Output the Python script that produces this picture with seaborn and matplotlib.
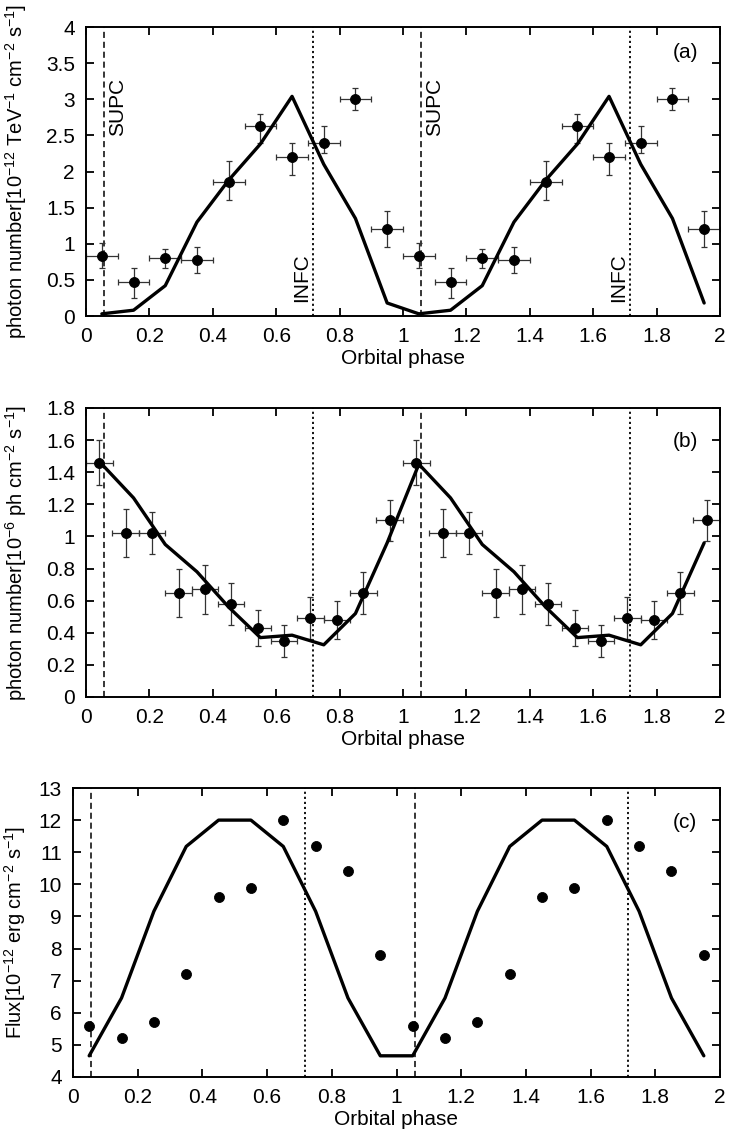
import numpy as np
import pandas as pd
import matplotlib
matplotlib.use("Agg")
import matplotlib.pyplot as plt
import seaborn as sns

# ---------------- data ----------------
# Panel (a): TeV photon number
a_phase = [0.05, 0.15, 0.25, 0.35, 0.45, 0.55, 0.65, 0.75, 0.85, 0.95,
           1.05, 1.15, 1.25, 1.35, 1.45, 1.55, 1.65, 1.75, 1.85, 1.95]
a_value = [0.83, 0.47, 0.80, 0.77, 1.85, 2.63, 2.20, 2.40, 3.00, 1.20,
           0.83, 0.47, 0.80, 0.77, 1.85, 2.63, 2.20, 2.40, 3.00, 1.20]
a_err_lo = [0.17, 0.22, 0.14, 0.17, 0.25, 0.24, 0.25, 0.15, 0.15, 0.25,
            0.17, 0.22, 0.14, 0.17, 0.25, 0.24, 0.25, 0.15, 0.15, 0.25]
a_err_hi = [0.18, 0.20, 0.13, 0.18, 0.30, 0.17, 0.20, 0.23, 0.15, 0.25,
            0.18, 0.20, 0.13, 0.18, 0.30, 0.17, 0.20, 0.23, 0.15, 0.25]
a_xerr = 0.05
a_model_phase = a_phase
a_model = [0.03, 0.08, 0.42, 1.30, 1.88, 2.38, 3.04, 2.10, 1.35, 0.18,
           0.03, 0.08, 0.42, 1.30, 1.88, 2.38, 3.04, 2.10, 1.35, 0.18]

# Panel (b): GeV photon number
b_phase = [0.042, 0.125, 0.208, 0.292, 0.375, 0.458, 0.542, 0.625, 0.708, 0.792, 0.875, 0.958,
           1.042, 1.125, 1.208, 1.292, 1.375, 1.458, 1.542, 1.625, 1.708, 1.792, 1.875, 1.958]
b_value = [1.46, 1.02, 1.02, 0.65, 0.67, 0.58, 0.43, 0.35, 0.49, 0.48, 0.65, 1.10,
           1.46, 1.02, 1.02, 0.65, 0.67, 0.58, 0.43, 0.35, 0.49, 0.48, 0.65, 1.10]
b_err = [0.14, 0.15, 0.13, 0.15, 0.15, 0.13, 0.11, 0.10, 0.13, 0.12, 0.13, 0.13,
         0.14, 0.15, 0.13, 0.15, 0.15, 0.13, 0.11, 0.10, 0.13, 0.12, 0.13, 0.13]
b_xerr = 0.0417
b_model_phase = a_phase
b_model = [1.45, 1.24, 0.95, 0.78, 0.56, 0.37, 0.385, 0.325, 0.52, 0.96,
           1.45, 1.24, 0.95, 0.78, 0.56, 0.37, 0.385, 0.325, 0.52, 0.96]

# Panel (c): X-ray flux
c_phase = a_phase
c_value = [5.6, 5.2, 5.7, 7.2, 9.6, 9.9, 12.0, 11.2, 10.4, 7.8,
           5.6, 5.2, 5.7, 7.2, 9.6, 9.9, 12.0, 11.2, 10.4, 7.8]
c_model_phase = a_phase
c_model = [4.66, 6.46, 9.16, 11.18, 12.0, 12.0, 11.18, 9.16, 6.46, 4.66,
           4.66, 6.46, 9.16, 11.18, 12.0, 12.0, 11.18, 9.16, 6.46, 4.66]

supc_phase = [0.056, 1.056]
infc_phase = [0.716, 1.716]
x_tick_labels = ["0", "0.2", "0.4", "0.6", "0.8", "1", "1.2", "1.4", "1.6", "1.8", "2"]

# ---------------- style ----------------
sns.set_theme(style="ticks")
FS = 15
plt.rcParams.update({
    "font.family": ["Liberation Sans", "DejaVu Sans"],
    "font.size": FS,
    "text.color": "black",
    "axes.labelcolor": "black",
    "xtick.color": "black",
    "ytick.color": "black",
    "xtick.direction": "in",
    "ytick.direction": "in",
    "xtick.major.size": 6,
    "ytick.major.size": 6,
    "xtick.major.width": 1.2,
    "ytick.major.width": 1.2,
    "xtick.top": True,
    "ytick.right": True,
    "axes.linewidth": 1.4,
    "axes.edgecolor": "black",
    "xtick.labelsize": FS,
    "ytick.labelsize": FS,
    "axes.labelsize": FS,
    "mathtext.default": "regular",
})

fig, axs = plt.subplots(3, 1, figsize=(7.3, 11.46), dpi=100)
ax_a, ax_b, ax_c = axs
W, H = 730, 1146


def place(ax, left, right, top, bottom):
    ax.set_position([left / W, 1 - bottom / H, (right - left) / W, (bottom - top) / H])


place(ax_a, 86, 720, 27, 316)
place(ax_b, 86, 720, 408, 697)
place(ax_c, 73, 720, 788, 1077)


def draw_vlines(ax):
    for p in supc_phase:
        ax.axvline(p, color="black", lw=1.1, ls=(0, (4, 2.5)), zorder=1)
    for p in infc_phase:
        ax.axvline(p, color="black", lw=1.3, ls=(0, (1.2, 1.6)), zorder=1)


def finish(ax, ylim, yticks, ylabel, tag, tag_y):
    ax.set_xlim(0, 2)
    ax.set_ylim(*ylim)
    ax.set_xticks(np.arange(0, 2.01, 0.2))
    ax.set_xticklabels(x_tick_labels)
    ax.set_yticks(yticks)
    ax.set_yticklabels(["%g" % round(v, 2) for v in yticks])
    ax.set_xlabel("Orbital phase", labelpad=2, fontsize=FS)
    ax.set_ylabel(ylabel, fontsize=FS - 0.5)
    ax.text(1.89, tag_y, tag, ha="center", va="center", fontsize=FS)


def style_ticks(ax):
    ax.minorticks_off()
    ax.xaxis.set_ticks_position("both")
    ax.yaxis.set_ticks_position("both")
    ax.tick_params(axis="both", which="major", direction="in", length=6, width=1.3,
                   color="black", top=True, right=True, bottom=True, left=True,
                   labelbottom=True, labelleft=True, labeltop=False, labelright=False,
                   pad=8, labelsize=FS)
    for s in ax.spines.values():
        s.set_visible(True)
        s.set_color("black")
        s.set_linewidth(1.4)


# ---- panel (a)
draw_vlines(ax_a)
ax_a.errorbar(a_phase, a_value, yerr=[a_err_lo, a_err_hi], xerr=a_xerr, fmt="none",
              ecolor="#333333", elinewidth=0.9, capsize=2.2, capthick=0.9, zorder=2)
sns.lineplot(x=a_model_phase, y=a_model, ax=ax_a, color="black", lw=2.4, zorder=3)
sns.scatterplot(x=a_phase, y=a_value, ax=ax_a, color="black", s=52, edgecolor="black", zorder=4)
finish(ax_a, (0, 4), np.arange(0, 4.01, 0.5),
       "photon number[10$^{-12}$ TeV$^{-1}$ cm$^{-2}$ s$^{-1}$]", "(a)", 3.65)
for p in supc_phase:
    ax_a.text(p + 0.045, 2.9, "SUPC", rotation=90, ha="center", va="center", fontsize=FS)
for p in infc_phase:
    ax_a.text(p - 0.036, 0.53, "INFC", rotation=90, ha="center", va="center", fontsize=FS)

# ---- panel (b)
draw_vlines(ax_b)
ax_b.errorbar(b_phase, b_value, yerr=b_err, xerr=b_xerr, fmt="none",
              ecolor="#333333", elinewidth=0.9, capsize=2.2, capthick=0.9, zorder=2)
sns.lineplot(x=b_model_phase, y=b_model, ax=ax_b, color="black", lw=2.4, zorder=3)
sns.scatterplot(x=b_phase, y=b_value, ax=ax_b, color="black", s=52, edgecolor="black", zorder=4)
finish(ax_b, (0, 1.8), np.arange(0, 1.81, 0.2),
       "photon number[10$^{-6}$ ph cm$^{-2}$ s$^{-1}$]", "(b)", 1.59)

# ---- panel (c)
draw_vlines(ax_c)
sns.lineplot(x=c_model_phase, y=c_model, ax=ax_c, color="black", lw=2.4, zorder=3)
sns.scatterplot(x=c_phase, y=c_value, ax=ax_c, color="black", s=52, edgecolor="black", zorder=4)
finish(ax_c, (4, 13), np.arange(4, 13.01, 1),
       "Flux[10$^{-12}$ erg cm$^{-2}$ s$^{-1}$]", "(c)", 11.93)

ax_a.yaxis.set_label_coords(-0.09, 0.5)
ax_b.yaxis.set_label_coords(-0.09, 0.5)
ax_c.yaxis.set_label_coords(-0.069, 0.5)

for ax in (ax_a, ax_b, ax_c):
    style_ticks(ax)

fig.savefig("out.png", dpi=100)
